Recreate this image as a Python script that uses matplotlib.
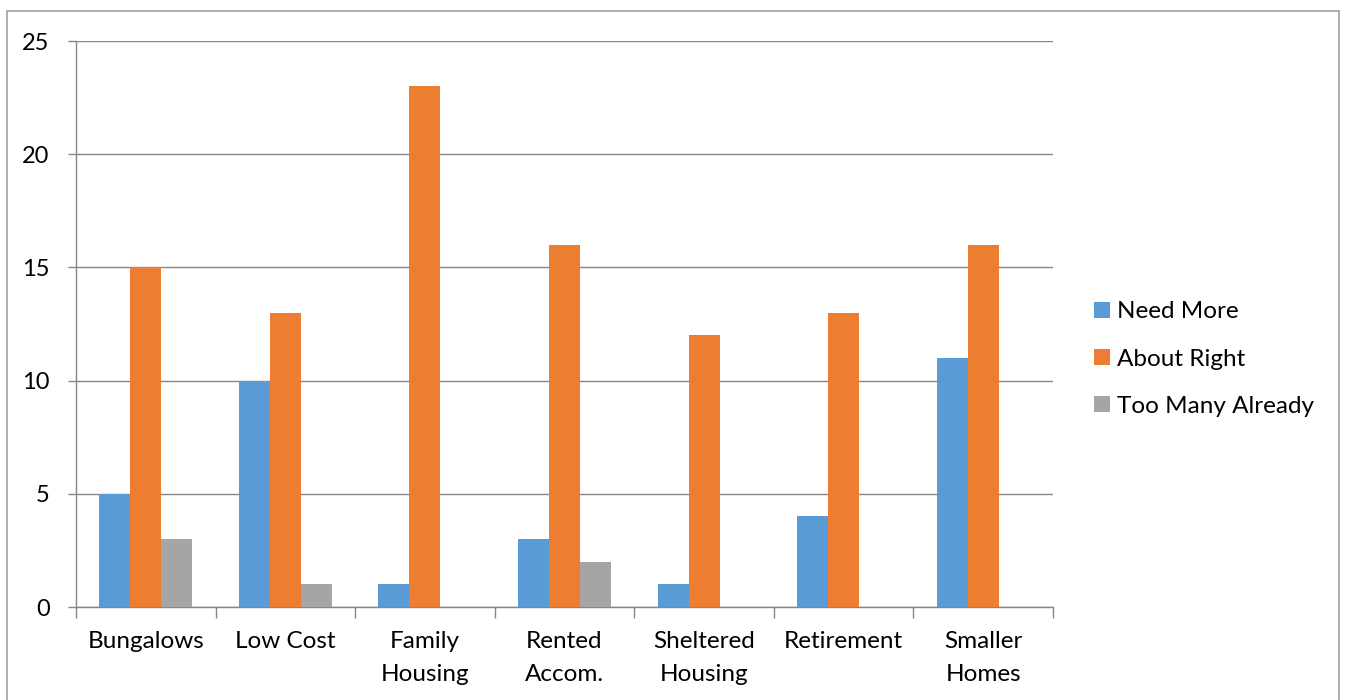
import matplotlib.pyplot as plt
import numpy as np
from matplotlib.patches import Rectangle

plt.rcParams['font.family'] = ['Lato', 'DejaVu Sans']

# 데이터
categories = ['Bungalows', 'Low Cost', 'Family\nHousing', 'Rented\nAccom.',
              'Sheltered\nHousing', 'Retirement', 'Smaller\nHomes']
need_more = [5, 10, 1, 3, 1, 4, 11]
about_right = [15, 13, 23, 16, 12, 13, 16]
too_many = [3, 1, 0, 2, 0, 0, 0]
series_names = ['Need More', 'About Right', 'Too Many Already']
colors = ['#5B9BD5', '#ED7D31', '#A5A5A5']
y_ticks = [0, 5, 10, 15, 20, 25]

fig = plt.figure(figsize=(13.45, 7.0), dpi=100)
ax = fig.add_axes([76 / 1345, 1 - 607 / 700, (1053 - 76) / 1345, (607 - 41) / 700])

pos = np.arange(len(categories))
w = 1 / 4.5
for k, vals in enumerate([need_more, about_right, too_many]):
    ax.bar(pos + (k - 1) * w, vals, width=w, color=colors[k], label=series_names[k],
           zorder=3, linewidth=0)

ax.set_xlim(-0.5, len(categories) - 0.5)
ax.set_ylim(0, 25)
ax.set_yticks(y_ticks)
ax.yaxis.grid(True, color='#868686', linewidth=1.0, zorder=0)
ax.tick_params(axis='y', length=6, width=1, color='#868686', labelsize=17, pad=13)

# 카테고리 경계에 눈금
ax.set_xticks(np.arange(len(categories) + 1) - 0.5)
ax.set_xticklabels([])
ax.tick_params(axis='x', which='major', length=8, width=1, color='#868686')
ax.set_xticks(pos, minor=True)
ax.set_xticklabels(categories, minor=True, fontsize=17.5, linespacing=1.72)
ax.tick_params(axis='x', which='minor', length=0, pad=17)

for s in ['top', 'right']:
    ax.spines[s].set_visible(False)
for s in ['left', 'bottom']:
    ax.spines[s].set_color('#868686')
    ax.spines[s].set_linewidth(1.0)

leg = fig.legend(loc='center left', bbox_to_anchor=(1072 / 1345, 1 - 359 / 700),
                 frameon=False, fontsize=17.5, handlelength=0.65, handleheight=0.65,
                 handletextpad=0.3, labelspacing=1.08)

# 바깥 테두리
fig.patches.append(Rectangle((7 / 1345, -0.05), (1339 - 7) / 1345, 1.05 - 11 / 700,
                             transform=fig.transFigure, fill=False,
                             edgecolor='#A0A0A0', linewidth=1.2))

plt.savefig('out.png', dpi=100)
